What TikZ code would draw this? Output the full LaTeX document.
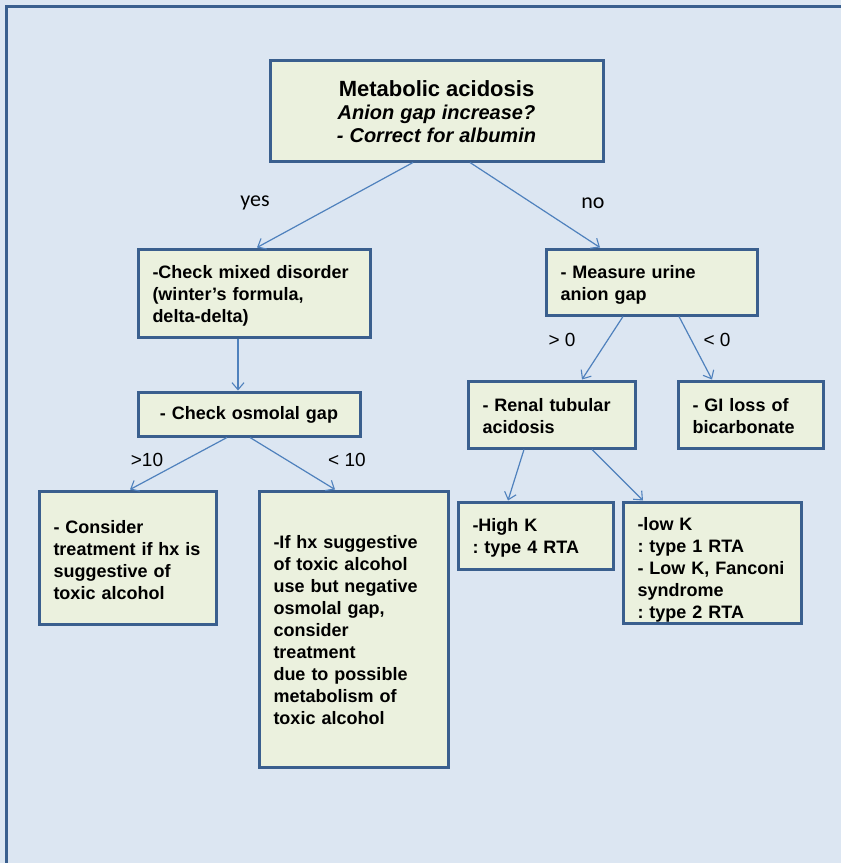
\documentclass[tikz,border=0pt]{standalone}
\usepackage{fontspec}
\setmainfont{Liberation Sans}
\newfontfamily\calib{Carlito}
\usetikzlibrary{arrows.meta}
\definecolor{bgc}{HTML}{DCE6F2}
\definecolor{framec}{HTML}{3A5F8E}
\definecolor{boxfill}{HTML}{EBF1DE}
\definecolor{arrowc}{HTML}{4F81BD}
\frenchspacing
\tikzset{
  flowbox/.style={draw=framec, line width=3pt, fill=boxfill, rectangle,
    inner xsep=14.5pt, inner ysep=0pt, align=left,
    font=\fontsize{18}{22}\selectfont\bfseries},
  tshift/.style={execute at begin node={\rule{0pt}{\dimexpr 13pt+#1*2\relax}}},
  conn/.style={draw=arrowc, line width=1.2pt, -{Straight Barb[length=7pt,width=12pt,line width=1.1pt]}},
  lbl/.style={font=\fontsize{19}{22}\selectfont, inner sep=0pt},
  lblc/.style={font=\calib\fontsize{22}{24}\selectfont, inner sep=0pt}
}
\begin{document}
\begin{tikzpicture}[x=1pt,y=-1pt]
\useasboundingbox (0,0) rectangle (841,863);
\fill[bgc] (0,0) rectangle (841,863);
\draw[framec, line width=3pt] (870,6.5) -- (6.5,6.5) -- (6.5,880);

\node[flowbox, align=center, minimum width=333pt, minimum height=101pt, text width=304pt] (top) at (436.5,110.5)
  {{\fontsize{22}{26}\selectfont\rule{0pt}{18pt}Metabolic acidosis}\\[1pt]
   {\fontsize{20}{26}\selectfont\itshape Anion gap increase?}\\[1pt]
   {\fontsize{20}{26}\selectfont\itshape - Correct for albumin}};

\node[flowbox, tshift=3pt, minimum width=232pt, minimum height=88pt, text width=203pt] (mixed) at (254,293)
  {-Check mixed disorder\\(winter’s formula,\\delta-delta)};

\node[flowbox, tshift=1pt, align=center, minimum width=222pt, minimum height=44pt, text width=193pt] (osm) at (249,414)
  {- Check osmolal gap};

\node[flowbox, tshift=3pt, minimum width=177pt, minimum height=133pt, text width=148pt] (cons) at (127.5,557.5)
  {- Consider\\treatment if hx is\\suggestive of\\toxic alcohol};

\node[flowbox, tshift=1pt, minimum width=189pt, minimum height=276pt, text width=160pt] (ifhx) at (353.5,629)
  {-If hx suggestive\\of toxic alcohol\\use but negative\\osmolal gap,\\consider\\treatment\\due to possible\\metabolism of\\toxic alcohol};

\node[flowbox, tshift=3pt, minimum width=211pt, minimum height=66pt, text width=182pt] (urine) at (651.5,282)
  {- Measure urine\\anion gap};

\node[flowbox, tshift=2pt, minimum width=167pt, minimum height=67pt, text width=138pt] (renal) at (551.5,414.5)
  {- Renal tubular\\acidosis};

\node[flowbox, tshift=2pt, minimum width=145pt, minimum height=67pt, text width=116pt] (gi) at (750.5,414.5)
  {- GI loss of\\bicarbonate};

\node[flowbox, tshift=2pt, minimum width=155pt, minimum height=67pt, text width=126pt] (highk) at (535.5,535.5)
  {-High K\\: type 4 RTA};

\node[flowbox, tshift=7.5pt, minimum width=178pt, minimum height=121pt, text width=149pt] (lowk) at (712,562.5)
  {-low K\\: type 1 RTA\\- Low K, Fanconi\\syndrome\\: type 2 RTA};

\draw[conn] ([xshift=-23.5pt]top.south) -- ([xshift=3pt]mixed.north);
\draw[conn] ([xshift=33.5pt]top.south) -- ([xshift=-51.5pt]urine.north);
\draw[conn] ([xshift=-16pt]mixed.south) -- ([xshift=-11pt]osm.north);
\draw[conn] ([xshift=-22pt]osm.south) -- ([xshift=2.5pt]cons.north);
\draw[conn] ([xshift=1pt]osm.south) -- ([xshift=-18.5pt]ifhx.north);
\draw[conn] ([xshift=-28.5pt]urine.south) -- ([xshift=30.5pt]renal.north);
\draw[conn] ([xshift=27.5pt]urine.south) -- ([xshift=-38.5pt]gi.north);
\draw[conn] ([xshift=-27.5pt]renal.south) -- ([xshift=-27.5pt]highk.north);
\draw[conn] ([xshift=40.5pt]renal.south) -- ([xshift=-69pt]lowk.north);

\node[lblc] (lyes) at (255,203) {yes};
\node[lblc] (lno) at (593,203) {no};
\node[lbl] (lgt10) at (147,460) {>10};
\node[lbl] (llt10) at (347,460) {< 10};
\node[lbl] (lgt0) at (562,340) {> 0};
\node[lbl] (llt0) at (717,340) {< 0};
\end{tikzpicture}
\end{document}
